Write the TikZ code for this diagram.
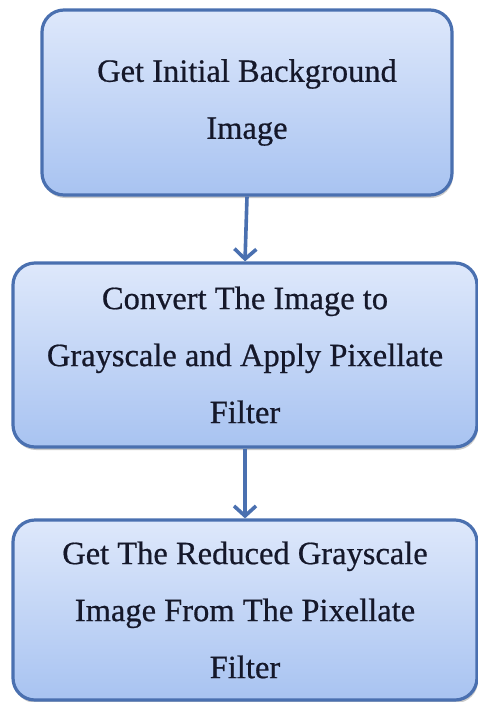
\documentclass[tikz,border=0pt]{standalone}
\usepackage{fontspec}
\setmainfont[FakeBold=0.6]{Liberation Serif}
\usetikzlibrary{arrows.meta,shadows}
\definecolor{edgeblue}{HTML}{4A70B0}
\definecolor{topfill}{HTML}{DEE8FB}
\definecolor{botfill}{HTML}{A8C3F1}
\definecolor{txt}{HTML}{15182A}
\tikzset{
  stepbox/.style={draw=edgeblue, line width=3.2pt, rounded corners=22pt,
    top color=topfill, bottom color=botfill, align=center, text=txt,
    font=\fontsize{32.5}{57}\selectfont, inner sep=0pt,
    drop shadow={shadow xshift=1pt, shadow yshift=-3pt, opacity=0.35, fill=black!60}},
  flow/.style={draw=edgeblue, line width=3.6pt, -{Straight Barb[length=10pt,width=22pt,line width=3.6pt]}}
}
\begin{document}
\begin{tikzpicture}[x=1pt,y=1pt]
\useasboundingbox (0,0) rectangle (478,-702);
\node[stepbox, minimum width=410pt, minimum height=185pt] (b1) at (247,-102.5)
  {Get Initial Background\\Image};
\node[stepbox, minimum width=464pt, minimum height=184pt] (b2) at (245,-355)
  {Convert The Image to\\Grayscale and Apply Pixellate\\Filter};
\node[stepbox, minimum width=464pt, minimum height=180pt] (b3) at (245,-610)
  {Get The Reduced Grayscale\\Image From The Pixellate\\Filter};
\draw[flow] (b1.south) -- (b2.north);
\draw[flow] (b2.south) -- (b3.north);
\end{tikzpicture}
\end{document}
